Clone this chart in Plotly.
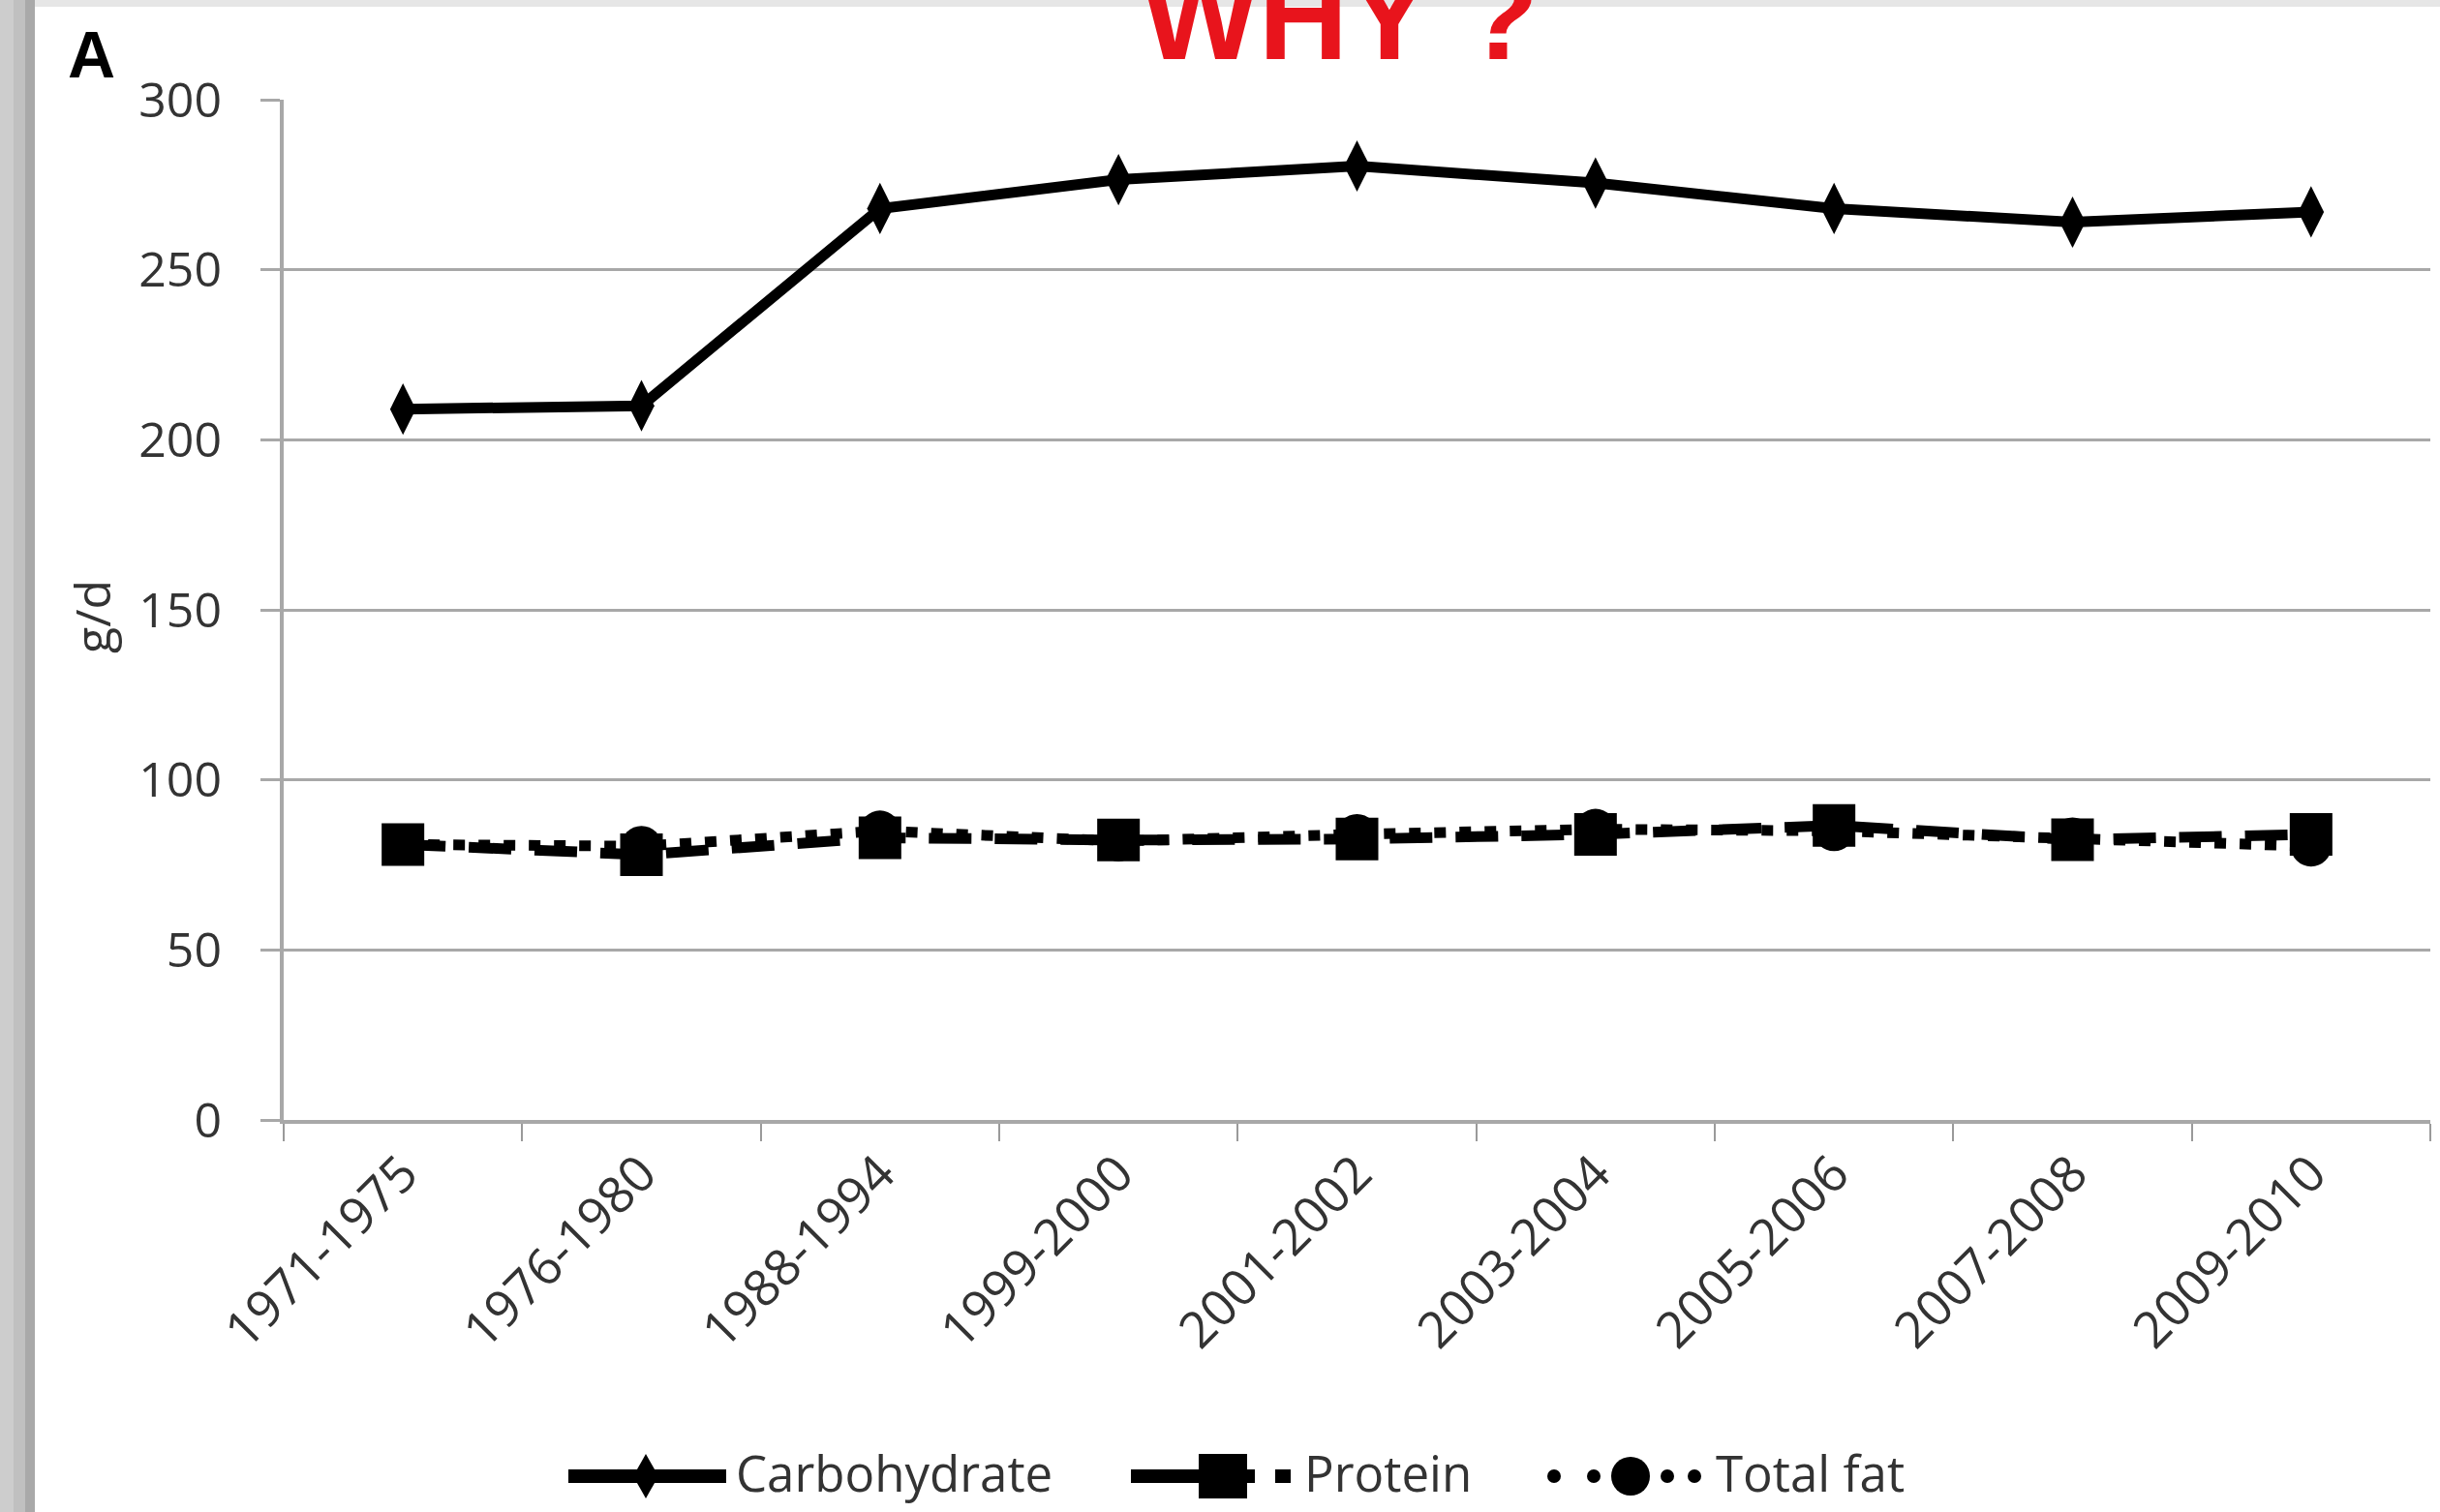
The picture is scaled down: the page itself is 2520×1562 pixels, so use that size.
import plotly.graph_objects as go

# ---------------- data ----------------
periods = ["1971-1975", "1976-1980", "1988-1994", "1999-2000", "2001-2002",
           "2003-2004", "2005-2006", "2007-2008", "2009-2010"]
carbohydrate = [209, 210, 268, 276.5, 280.5, 275.5, 268, 264, 267]
protein = [81, 78, 83, 82.3, 82.6, 84, 86.6, 82.4, 84]
total_fat = [81, 80.5, 85, 82, 84, 85.5, 85, 83, 80.5]
series_names = ["Carbohydrate", "Protein", "Total fat"]
y_ticks = [0, 50, 100, 150, 200, 250, 300]

# ---------------- layout geometry ----------------
W, H = 2520, 1562
L, R, T, B = 293, 10, 103, 405
PW, PH = W - L - R, H - T - B


def pxx(x):
    return (x - L) / PW


def pyy(y):
    return (H - B - y) / PH


FONT = "Open Sans"
GRID = "#a8a8a8"
TXT = "#333333"

fig = go.Figure()
fig.add_trace(go.Scatter(
    x=periods, y=carbohydrate, name=series_names[0], mode="lines+markers",
    line=dict(color="black", width=11),
    marker=dict(symbol="diamond-tall", size=38, color="black")))
fig.add_trace(go.Scatter(
    x=periods, y=protein, name=series_names[1], mode="lines+markers",
    line=dict(color="black", width=11, dash="44px,24px"),
    marker=dict(symbol="square", size=44, color="black")))
fig.add_trace(go.Scatter(
    x=periods, y=total_fat, name=series_names[2], mode="lines+markers",
    line=dict(color="black", width=11, dash="12px,14px"),
    marker=dict(symbol="circle", size=42, color="black")))

shapes = []
annotations = []

# left grey slide border and top strip
for x0, x1, c in [(0, 14, "#cdcdcd"), (14, 26, "#c0c0c0"), (26, 36, "#a9a9a9")]:
    shapes.append(dict(type="rect", xref="paper", yref="paper",
                       x0=pxx(x0), x1=pxx(x1), y0=pyy(H), y1=pyy(0),
                       fillcolor=c, line=dict(width=0), layer="below"))
shapes.append(dict(type="rect", xref="paper", yref="paper",
                   x0=pxx(36), x1=pxx(W), y0=pyy(7), y1=pyy(0),
                   fillcolor="#e6e6e6", line=dict(width=0), layer="below"))

# ---------------- custom legend ----------------
LY = 1525
# Carbohydrate: solid line + tall diamond
shapes.append(dict(type="line", xref="paper", yref="paper",
                   x0=pxx(587), x1=pxx(750), y0=pyy(LY), y1=pyy(LY),
                   line=dict(color="black", width=14)))
cx = 667
shapes.append(dict(type="path", xref="paper", yref="paper",
                   path=f"M {pxx(cx)},{pyy(LY-23)} L {pxx(cx+13)},{pyy(LY)} "
                        f"L {pxx(cx)},{pyy(LY+23)} L {pxx(cx-13)},{pyy(LY)} Z",
                   fillcolor="black", line=dict(width=0)))
# Protein: dash + square + dot
shapes.append(dict(type="line", xref="paper", yref="paper",
                   x0=pxx(1168), x1=pxx(1240), y0=pyy(LY), y1=pyy(LY),
                   line=dict(color="black", width=14)))
shapes.append(dict(type="rect", xref="paper", yref="paper",
                   x0=pxx(1238), x1=pxx(1288), y0=pyy(LY+23), y1=pyy(LY-23),
                   fillcolor="black", line=dict(width=0)))
shapes.append(dict(type="line", xref="paper", yref="paper",
                   x0=pxx(1284), x1=pxx(1296), y0=pyy(LY), y1=pyy(LY),
                   line=dict(color="black", width=14)))
shapes.append(dict(type="line", xref="paper", yref="paper",
                   x0=pxx(1317), x1=pxx(1333), y0=pyy(LY), y1=pyy(LY),
                   line=dict(color="black", width=14)))
# Total fat: dots + circle + dots
for dx in [1605, 1646, 1722, 1750]:
    shapes.append(dict(type="circle", xref="paper", yref="paper",
                       x0=pxx(dx - 7), x1=pxx(dx + 7), y0=pyy(LY + 7), y1=pyy(LY - 7),
                       fillcolor="black", line=dict(width=0)))
shapes.append(dict(type="circle", xref="paper", yref="paper",
                   x0=pxx(1684 - 20), x1=pxx(1684 + 20), y0=pyy(LY + 20), y1=pyy(LY - 20),
                   fillcolor="black", line=dict(width=0)))

for name, x0 in zip(series_names, [758, 1345, 1770]):
    annotations.append(dict(text=name, xref="paper", yref="paper",
                            x=pxx(x0), y=pyy(LY - 4), xanchor="left", yanchor="middle",
                            showarrow=False, font=dict(family=FONT, size=51, color=TXT)))

# Title "WHY ?" (clipped at top, as in the slide), panel letter and y axis title
annotations.append(dict(text="<b>WHY ?</b>", xref="paper", yref="paper",
                        x=pxx(1384), y=pyy(16), xanchor="center", yanchor="middle",
                        showarrow=False,
                        font=dict(family="Liberation Sans", size=128, color="#e8141c")))
annotations.append(dict(text="<b>A</b>", xref="paper", yref="paper",
                        x=pxx(94), y=pyy(56), xanchor="center", yanchor="middle",
                        showarrow=False,
                        font=dict(family="Liberation Sans", size=68, color="black")))
annotations.append(dict(text="g/d", xref="paper", yref="paper",
                        x=pxx(95), y=pyy(637), xanchor="center", yanchor="middle",
                        textangle=-90, showarrow=False,
                        font=dict(family=FONT, size=50, color=TXT)))

fig.update_layout(
    width=W, height=H, autosize=False,
    margin=dict(l=L, r=R, t=T, b=B, pad=0),
    paper_bgcolor="white", plot_bgcolor="white",
    showlegend=False,
    shapes=shapes, annotations=annotations,
    xaxis=dict(type="category", categoryorder="array", categoryarray=periods,
               range=[-0.5, len(periods) - 0.5],
               tickson="boundaries", ticks="outside", ticklen=18, tickwidth=2,
               tickcolor="#9a9a9a", showline=True, linecolor=GRID, linewidth=4,
               showgrid=False, tickangle=-45,
               tickfont=dict(family=FONT, size=52, color=TXT)),
    yaxis=dict(range=[0, 300], tickvals=y_ticks, showgrid=True, gridcolor=GRID,
               gridwidth=3, ticks="outside", ticklen=20, tickwidth=3,
               tickcolor=GRID, showline=True, linecolor=GRID, linewidth=4,
               zeroline=False, ticklabelstandoff=30,
               tickfont=dict(family=FONT, size=50, color=TXT)),
)

fig.write_html("out.html", config={"displayModeBar": False},
               post_script="document.body.style.margin='0';")
